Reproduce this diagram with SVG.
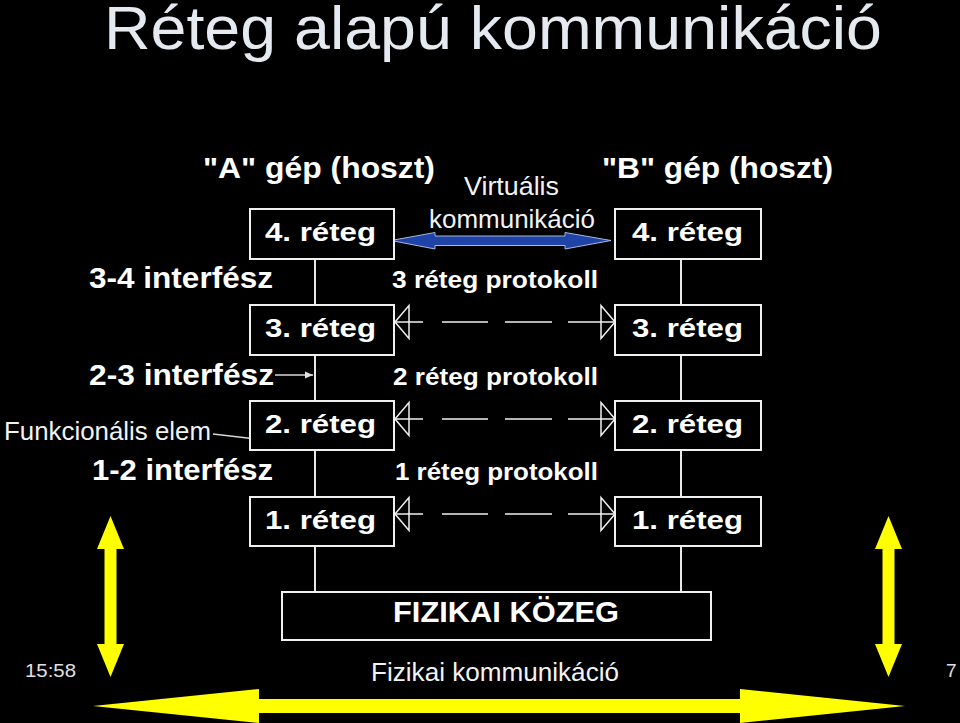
<svg xmlns="http://www.w3.org/2000/svg" width="960" height="723" viewBox="0 0 960 723">
<style>
.bg{fill:#000}
.box{fill:#000;stroke:#f0f0f0;stroke-width:2}
.ln{stroke:#e8e8e8;stroke-width:2;fill:none}
.thin{stroke:#d8d8d8;stroke-width:1.5;fill:none}
.proto{stroke:#f0f0f0;stroke-width:1.6;fill:none;stroke-dasharray:28 19 46 17 47 16 47}
.lay{font-family:"Liberation Sans",Arial,sans-serif;font-weight:bold;font-size:26px;fill:#fff}
.hd{font-family:"Liberation Sans",Arial,sans-serif;font-weight:bold;font-size:29px;fill:#fff}
.pr{font-family:"Liberation Sans",Arial,sans-serif;font-weight:bold;font-size:24px;fill:#fff}
.reg{font-family:"Liberation Sans",Arial,sans-serif;font-size:25px;fill:#f2f2f2}
.small{font-family:"Liberation Sans",Arial,sans-serif;font-size:19px;fill:#e0e0e0}
.title{font-family:"Liberation Sans",Arial,sans-serif;font-size:62px;fill:#e4eaf0}
.yel{fill:#ffff00}
</style>
<defs>
<marker id="openTri" viewBox="-16 -19 18 38" markerWidth="18" markerHeight="38" refX="0" refY="0" orient="auto-start-reverse" markerUnits="userSpaceOnUse" overflow="visible">
<path d="M0,0 L-14,-16.5 L-14,16.5 Z" fill="none" stroke="#f0f0f0" stroke-width="1.5"/>
</marker>
<marker id="smallHead" viewBox="-9 -5 10 10" markerWidth="10" markerHeight="10" refX="0" refY="0" orient="auto" markerUnits="userSpaceOnUse">
<path d="M0,0 L-8,-3.5 L-8,3.5 Z" fill="#e0e0e0"/>
</marker>
</defs>
<rect class="bg" x="0" y="0" width="960" height="723"/>

<g id="title">
<text class="title" x="104" y="49" textLength="778" lengthAdjust="spacingAndGlyphs">Réteg alapú kommunikáció</text>
</g>

<g id="headers">
<text class="hd" x="203" y="178" textLength="232" lengthAdjust="spacingAndGlyphs">"A" gép (hoszt)</text>
<text class="hd" x="602" y="178" textLength="231" lengthAdjust="spacingAndGlyphs">"B" gép (hoszt)</text>
</g>

<g id="interface-labels">
<text class="hd" x="89" y="288" textLength="184" lengthAdjust="spacingAndGlyphs">3-4 interfész</text>
<text class="hd" x="89" y="385" textLength="185" lengthAdjust="spacingAndGlyphs">2-3 interfész</text>
<text class="hd" x="92" y="480" textLength="181" lengthAdjust="spacingAndGlyphs">1-2 interfész</text>
<text class="reg" x="4" y="440" textLength="207" lengthAdjust="spacingAndGlyphs">Funkcionális elem</text>
</g>

<g id="protocol-labels">
<text class="pr" x="392" y="288" textLength="206" lengthAdjust="spacingAndGlyphs">3 réteg protokoll</text>
<text class="pr" x="393" y="385" textLength="205" lengthAdjust="spacingAndGlyphs">2 réteg protokoll</text>
<text class="pr" x="395" y="480" textLength="203" lengthAdjust="spacingAndGlyphs">1 réteg protokoll</text>
</g>

<g id="virtual-label">
<text class="reg" x="464" y="195" textLength="95" lengthAdjust="spacingAndGlyphs">Virtuális</text>
<text class="reg" x="429" y="228" textLength="166" lengthAdjust="spacingAndGlyphs">kommunikáció</text>
</g>

<g id="connectors">
<line class="ln" x1="315" y1="259" x2="315" y2="305"/>
<line class="ln" x1="315" y1="355" x2="315" y2="401"/>
<line class="ln" x1="315" y1="450" x2="315" y2="497"/>
<line class="ln" x1="315" y1="546" x2="315" y2="592"/>
<line class="ln" x1="681" y1="259" x2="681" y2="305"/>
<line class="ln" x1="681" y1="355" x2="681" y2="401"/>
<line class="ln" x1="681" y1="450" x2="681" y2="497"/>
<line class="ln" x1="681" y1="546" x2="681" y2="592"/>
<path class="proto" d="M395,322 H615" marker-start="url(#openTri)" marker-end="url(#openTri)"/>
<path class="proto" d="M395,419 H615" marker-start="url(#openTri)" marker-end="url(#openTri)"/>
<path class="proto" d="M395,514 H615" marker-start="url(#openTri)" marker-end="url(#openTri)"/>
<line class="thin" x1="275" y1="375" x2="313" y2="375" marker-end="url(#smallHead)"/>
<line class="thin" x1="213" y1="434" x2="274" y2="441" marker-end="url(#smallHead)"/>
<path id="virtual-arrow" d="M391,240.5 L435,232.5 L435,236 L565,236 L565,232.5 L611,240.5 L565,249 L565,245.5 L435,245.5 L435,249 Z" fill="#1f43a6" stroke="#a8b8e0" stroke-width="1"/>
<path id="left-yellow" class="yel" d="M110.5,516 L124,549 L116.5,549 L116.5,644 L124,644 L110.5,677 L97,644 L104.5,644 L104.5,549 L97,549 Z"/>
<path id="right-yellow" class="yel" d="M888.5,516 L902,549 L894.5,549 L894.5,644 L902,644 L888.5,677 L875,644 L882.5,644 L882.5,549 L875,549 Z"/>
<path id="bottom-yellow" class="yel" d="M93,706 L259,689 L259,699 L740,699 L740,689 L905,706 L740,723 L740,713 L259,713 L259,723 Z"/>
</g>

<g id="A4"><rect class="box" x="250" y="209" width="144" height="50"/><text class="lay" x="265" y="241" textLength="111" lengthAdjust="spacingAndGlyphs">4. réteg</text></g>
<g id="A3"><rect class="box" x="250" y="305" width="144" height="50"/><text class="lay" x="265" y="337" textLength="111" lengthAdjust="spacingAndGlyphs">3. réteg</text></g>
<g id="A2"><rect class="box" x="250" y="401" width="144" height="49"/><text class="lay" x="265" y="433" textLength="111" lengthAdjust="spacingAndGlyphs">2. réteg</text></g>
<g id="A1"><rect class="box" x="250" y="497" width="144" height="49"/><text class="lay" x="265" y="529" textLength="111" lengthAdjust="spacingAndGlyphs">1. réteg</text></g>
<g id="B4"><rect class="box" x="615" y="209" width="146" height="50"/><text class="lay" x="632" y="241" textLength="111" lengthAdjust="spacingAndGlyphs">4. réteg</text></g>
<g id="B3"><rect class="box" x="615" y="305" width="146" height="50"/><text class="lay" x="632" y="337" textLength="111" lengthAdjust="spacingAndGlyphs">3. réteg</text></g>
<g id="B2"><rect class="box" x="615" y="401" width="146" height="49"/><text class="lay" x="632" y="433" textLength="111" lengthAdjust="spacingAndGlyphs">2. réteg</text></g>
<g id="B1"><rect class="box" x="615" y="497" width="146" height="49"/><text class="lay" x="632" y="529" textLength="111" lengthAdjust="spacingAndGlyphs">1. réteg</text></g>

<g id="medium"><rect class="box" x="282" y="592" width="429" height="48"/><text class="hd" x="393" y="622" style="font-size:30px" textLength="226" lengthAdjust="spacingAndGlyphs">FIZIKAI KÖZEG</text></g>

<g id="physical-label">
<text class="reg" x="371" y="681" textLength="248" lengthAdjust="spacingAndGlyphs">Fizikai kommunikáció</text>
</g>

<g id="footer">
<text class="small" x="25" y="677" textLength="51" lengthAdjust="spacingAndGlyphs">15:58</text>
<text class="small" x="946" y="677">7</text>
</g>
</svg>
